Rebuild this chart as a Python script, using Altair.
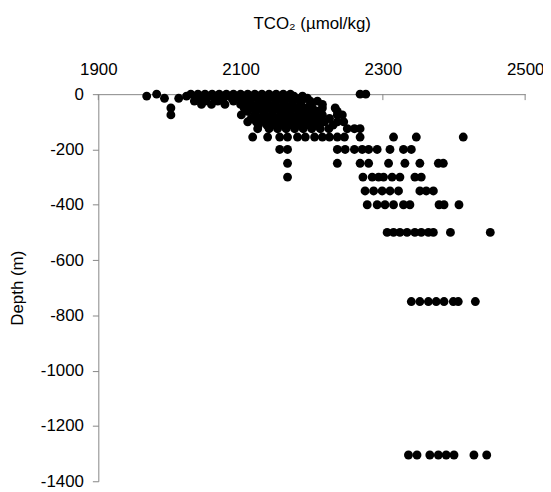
import altair as alt
import pandas as pd

# TCO2 (umol/kg) values read per sampling depth (m)
d0 = [1982, 2030, 2040, 2050, 2060, 2070, 2080, 2090, 2100, 2110, 2120, 2130, 2140, 2150, 2160, 2170, 2268, 2276]
d7 = [1968, 2024, 2045, 2055, 2065, 2075, 2085, 2095, 2105, 2115, 2125, 2135, 2145, 2155, 2165, 2175, 2187]
d15 = [1993, 2013, 2040, 2052, 2064, 2076, 2088, 2100, 2112, 2124, 2136, 2148, 2160, 2172, 2184, 2194]
d25 = [2035, 2050, 2068, 2090, 2102, 2114, 2126, 2138, 2150, 2162, 2174, 2186, 2198, 2208]
d37 = [2045, 2059, 2078, 2100, 2112, 2124, 2136, 2148, 2160, 2172, 2184, 2198, 2215]
d50 = [2002, 2105, 2117, 2129, 2141, 2153, 2165, 2177, 2189, 2201, 2215, 2233]
d62 = [2110, 2122, 2134, 2146, 2158, 2170, 2184, 2196, 2208, 2236]
d75 = [2002, 2101, 2120, 2132, 2144, 2156, 2168, 2180, 2192, 2204, 2215, 2236, 2243]
d88 = [2115, 2127, 2139, 2151, 2163, 2175, 2187, 2199, 2211, 2225]
d100 = [2110, 2122, 2134, 2146, 2158, 2170, 2182, 2194, 2206, 2218, 2236, 2245]
d112 = [2125, 2137, 2149, 2161, 2173, 2185, 2197, 2209, 2230]
d125 = [2124, 2140, 2152, 2164, 2176, 2188, 2200, 2212, 2224, 2250, 2260, 2268]
d155 = [2117, 2138, 2155, 2166, 2180, 2191, 2204, 2215, 2225, 2236, 2246, 2268, 2315, 2347, 2413]
d200 = [2155, 2166, 2236, 2247, 2260, 2271, 2280, 2292, 2310, 2329, 2340]
d250 = [2166, 2236, 2268, 2280, 2308, 2331, 2352, 2378, 2385]
d300 = [2166, 2272, 2285, 2294, 2301, 2313, 2324, 2345, 2354]
d350 = [2275, 2287, 2299, 2310, 2322, 2352, 2361, 2371]
d400 = [2278, 2292, 2303, 2315, 2329, 2338, 2379, 2386, 2407]
d500 = [2306, 2315, 2324, 2334, 2345, 2354, 2364, 2371, 2395, 2451]
d750 = [2340, 2352, 2364, 2375, 2386, 2399, 2406, 2430]
d1300 = [2336, 2348, 2366, 2378, 2389, 2400, 2428, 2446]

depths = [0, -7, -15, -25, -37, -50, -62, -75, -88, -100, -112, -125, -155,
          -200, -250, -300, -350, -400, -500, -750, -1305]
rows = [d0, d7, d15, d25, d37, d50, d62, d75, d88, d100, d112, d125, d155,
        d200, d250, d300, d350, d400, d500, d750, d1300]

x_ticks = [1900, 2100, 2300, 2500]
y_ticks = [0, -200, -400, -600, -800, -1000, -1200, -1400]

records = []
for dep, row in zip(depths, rows):
    for v in row:
        records.append({"tco2": v, "depth": dep})
df = pd.DataFrame(records)
tick_df = pd.DataFrame({"tco2": x_ticks})

FONT = "Liberation Sans"
GREY = "#868686"

xscale = alt.Scale(domain=[1900, 2500], nice=False, zero=False)
yscale = alt.Scale(domain=[-1400, 0], nice=False, zero=False)

points = alt.Chart(df).mark_circle(size=80, color="black", opacity=1).encode(
    x=alt.X("tco2:Q", scale=xscale,
            axis=alt.Axis(orient="top", values=x_ticks, ticks=False, grid=False,
                          domainColor=GREY, labelFontSize=17, labelFont=FONT,
                          labelColor="black", labelPadding=16, labelFlush=False,
                          labelExpr="'' + datum.value",
                          title="TCO₂ (µmol/kg)", titleFont=FONT, titleFontSize=17,
                          titleFontWeight="normal", titleColor="black",
                          titleX=215, titleY=-71, titleBaseline="middle")),
    y=alt.Y("depth:Q", scale=yscale,
            axis=alt.Axis(values=y_ticks, tickSize=6, tickColor=GREY, grid=False,
                          domainColor=GREY, labelFontSize=17, labelFont=FONT,
                          labelColor="black", labelPadding=9, labelFlush=False,
                          labelExpr="'' + datum.value",
                          title="Depth (m)", titleFont=FONT, titleFontSize=17,
                          titleFontWeight="normal", titleColor="black",
                          titleX=-81, titleY=195, titleBaseline="middle")),
)

inner_ticks = alt.Chart(tick_df).mark_rule(color=GREY, strokeWidth=1).encode(
    x=alt.X("tco2:Q", scale=xscale),
    y=alt.value(0),
    y2=alt.value(6),
)

chart = alt.layer(inner_ticks, points).properties(
    width=430, height=390,
    autosize=alt.AutoSizeParams(type="none"),
    padding={"left": 91, "top": 85, "right": 18, "bottom": 8},
    background="white",
).configure_view(stroke=None)

chart.save("out.html", embed_options={"renderer": "svg", "actions": False})
